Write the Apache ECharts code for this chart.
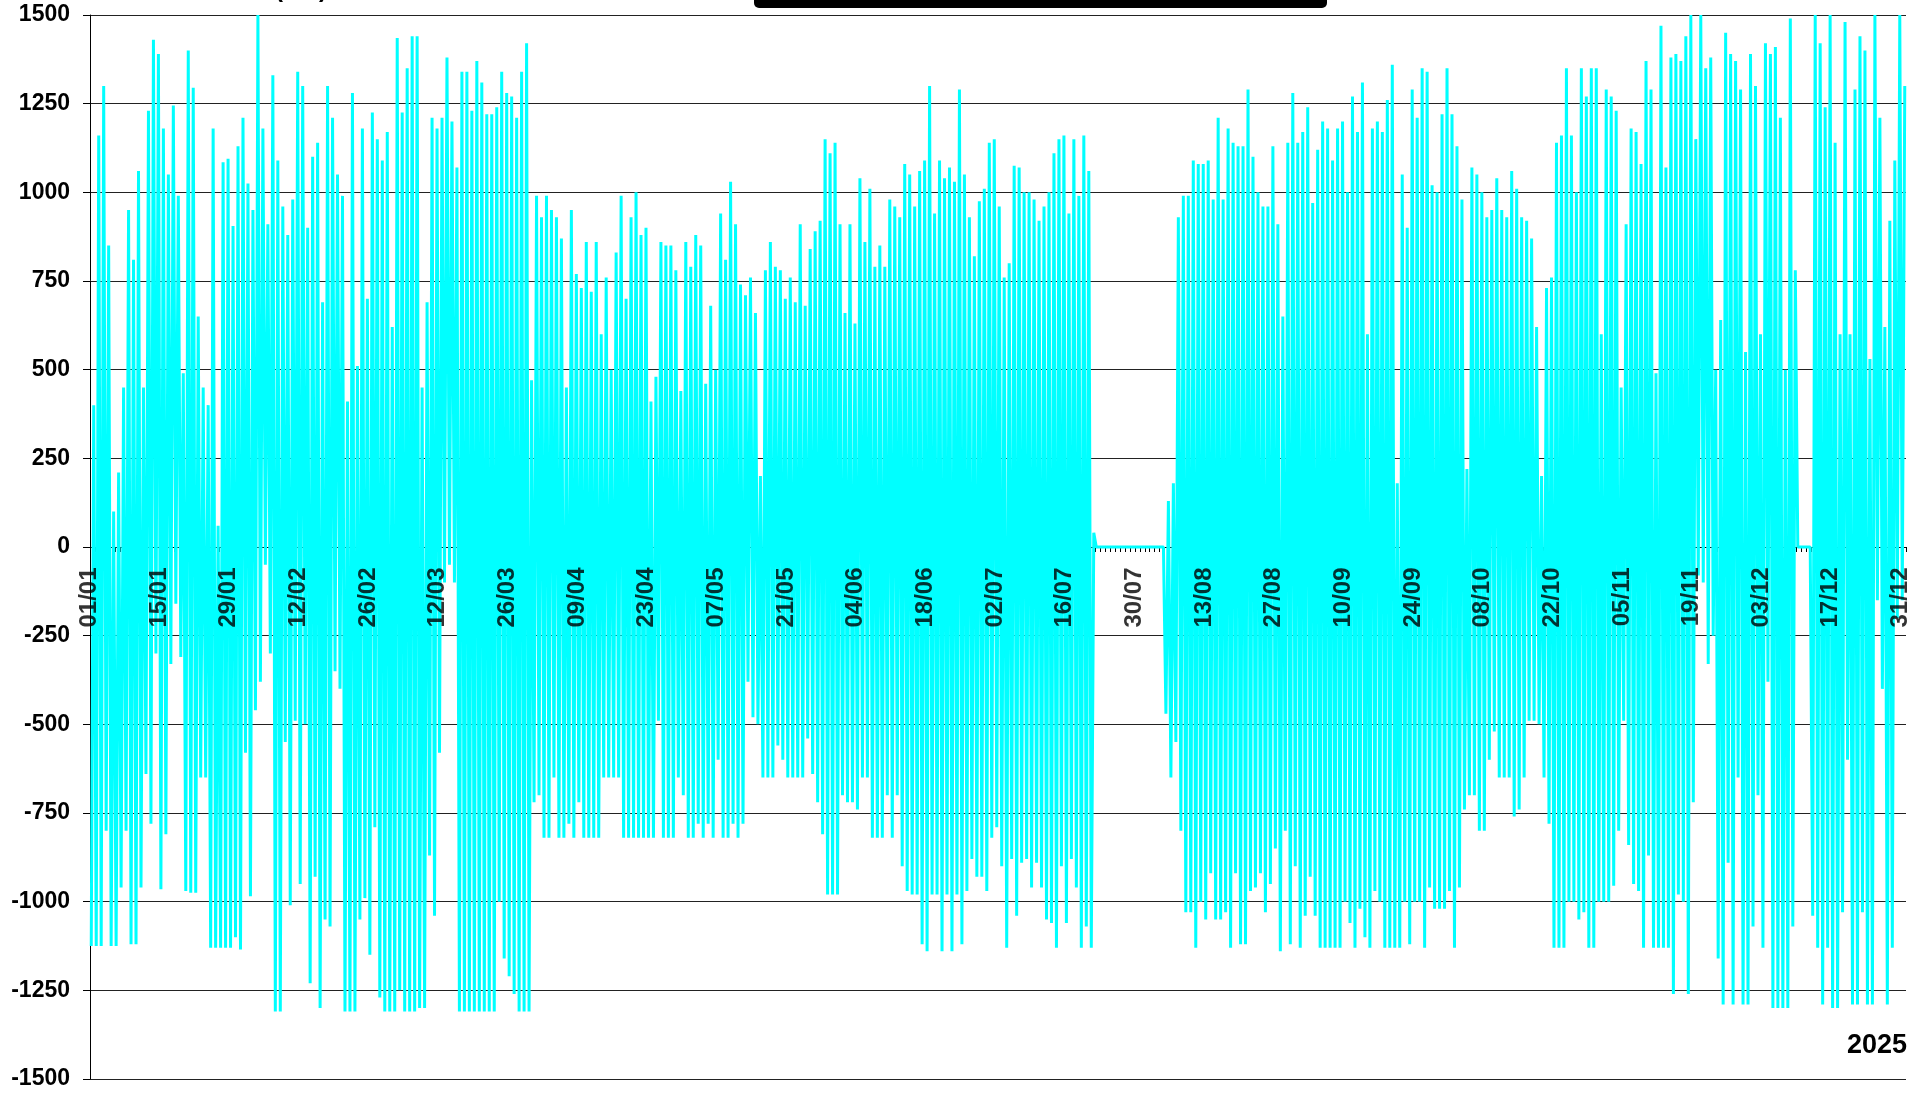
<!DOCTYPE html>
<html>
<head>
<meta charset="utf-8">
<script src="https://cdn.jsdelivr.net/npm/echarts@6/dist/echarts.min.js"></script>
<style>
html,body{margin:0;padding:0;background:#fff;}
#chart{width:1932px;height:1094px;}
</style>
</head>
<body>
<div id="chart"></div>
<script>
// x tick labels (every 14 days, 2025)
const tickLabels = ['01/01','15/01','29/01','12/02','26/02','12/03','26/03','09/04','23/04','07/05','21/05','04/06','18/06','02/07','16/07','30/07','13/08','27/08','10/09','24/09','08/10','22/10','05/11','19/11','03/12','17/12','31/12'];
const yearLabel = '2025';

// Daily maximum (kW), one value per day
const dayMax = [
 400,1160,1300,850,100,210,450,950,810,1060,
 450,1230,1430,1390,1180,1050,1245,990,490,1400,
 1295,650,450,400,1180,60,1085,1095,905,1130,
 1210,1025,950,1500,1180,910,1330,1090,960,880,
 980,1340,1300,900,1100,1140,690,1300,1210,1050,
 990,410,1280,510,1180,700,1225,1150,1090,1170,
 620,1435,1225,1350,1440,1440,450,690,1210,1180,
 1210,1380,1200,1070,1340,1340,1230,1370,1310,1220,
 1220,1240,1340,1280,1270,1210,1340,1420,470,990,
 930,990,950,930,870,450,950,770,730,860,
 720,860,600,760,500,830,990,700,930,1000,
 880,900,410,480,860,850,850,780,440,860,
 790,880,850,460,680,500,940,810,1030,910,
 740,710,760,660,200,780,860,790,780,700,
 760,690,910,680,840,890,920,1150,1110,1140,
 910,660,910,630,1040,860,1010,790,850,790,
 980,960,930,1080,1050,960,1060,1090,1300,940,
 1090,1040,1070,1030,1290,1050,930,820,975,1010,
 1140,1150,960,760,800,1075,1070,1000,1000,980,
 920,960,1000,1110,1150,1160,940,1150,990,1160,
 1060,40,0,0,0,0,0,0,0,0,
 0,0,0,0,0,0,130,180,930,990,
 990,1090,1080,1080,1090,980,1210,980,1180,1140,
 1130,1130,1290,1100,1000,960,960,1130,910,650,
 1140,1280,1140,1170,1240,970,1120,1200,1180,1090,
 1180,1200,1000,1270,1170,1310,600,1180,1200,1170,
 1260,1360,180,1050,900,1290,1210,1350,1340,1020,
 1000,1220,1350,1220,1130,980,220,1070,1050,1000,
 930,950,1040,950,930,1060,1010,930,920,870,
 620,200,730,760,1140,1160,1350,1160,1000,1350,
 1270,1350,1350,600,1290,1270,1230,450,910,1180,
 1170,1080,1370,1290,490,1470,1070,1380,1390,1370,
 1440,1500,1150,1500,1350,1380,500,640,1450,1390,
 1370,1290,550,1390,1300,600,1420,1390,1410,1210,
 500,1490,780,0,0,0,1500,1420,1240,1500,
 1140,600,1480,600,1290,1440,1400,530,1500,1210,
 620,920,1090,1500,1300
];

// Daily minimum (kW), one value per day
const dayMin = [
 -1125,-1125,-1125,-800,-1125,-1125,-960,-800,-1120,-1120,
 -960,-640,-780,-300,-965,-810,-330,-160,-310,-970,
 -975,-975,-650,-650,-1130,-1130,-1130,-1130,-1130,-1100,
 -1135,-580,-985,-460,-380,-50,-300,-1310,-1310,-550,
 -1010,-490,-950,-500,-1230,-930,-1300,-1050,-1070,-350,
 -400,-1310,-1310,-1310,-1050,-990,-1150,-790,-1270,-1310,
 -1310,-1310,-1250,-1310,-1310,-1310,-1300,-1300,-870,-1040,
 -580,-100,-50,-100,-1310,-1310,-1310,-1310,-1310,-1310,
 -1310,-1310,-1000,-1160,-1210,-1260,-1310,-1310,-1310,-720,
 -700,-820,-820,-650,-820,-820,-780,-820,-720,-820,
 -820,-820,-820,-650,-650,-650,-650,-820,-820,-820,
 -820,-820,-820,-820,-490,-820,-820,-820,-650,-700,
 -820,-820,-780,-820,-780,-820,-600,-820,-820,-780,
 -820,-780,-380,-480,-500,-650,-650,-650,-560,-600,
 -650,-650,-650,-650,-540,-640,-720,-810,-980,-980,
 -980,-700,-720,-720,-740,-650,-650,-820,-820,-820,
 -700,-820,-700,-900,-970,-980,-980,-1120,-1140,-980,
 -980,-1140,-980,-1140,-980,-1120,-970,-880,-930,-930,
 -970,-820,-790,-900,-1130,-880,-1040,-890,-880,-960,
 -890,-960,-1050,-1060,-1130,-900,-1060,-880,-960,-1130,
 -1070,-1130,0,0,0,0,0,0,0,0,
 0,0,0,0,0,0,-470,-650,-550,-800,
 -1030,-1030,-1130,-1000,-1050,-920,-1050,-1050,-1030,-1130,
 -920,-1120,-1120,-970,-960,-920,-1030,-950,-850,-1140,
 -800,-1120,-900,-1130,-1040,-930,-1040,-1130,-1130,-1130,
 -1130,-1130,-1000,-1060,-1130,-1020,-1100,-1130,-970,-1000,
 -1130,-1130,-1130,-1130,-1000,-1120,-1000,-1000,-1130,-960,
 -1020,-1020,-1020,-970,-1130,-960,-740,-700,-700,-800,
 -800,-600,-520,-650,-650,-650,-760,-740,-650,-490,
 -490,-500,-650,-780,-1130,-1130,-1130,-1000,-1000,-1050,
 -1030,-1130,-1130,-1000,-1000,-1000,-955,-800,-490,-840,
 -950,-970,-1130,-870,-1130,-1130,-1130,-1130,-1260,-980,
 -1000,-1260,-720,-80,-100,-330,-250,-1160,-1290,-890,
 -1290,-650,-1290,-1290,-1070,-700,-1130,-380,-1300,-1300,
 -1300,-1300,-1070,0,0,0,-1040,-1130,-1290,-1130,
 -1300,-1300,-1030,-600,-1290,-1290,-1030,-1290,-1290,-150,
 -400,-1290,-1130,-200,-150
];

const labelStep = 14;
const totalDays = 365;

// Build the line: each day contributes its trough then its peak
const seriesData = [];
for (let i = 0; i < dayMax.length; i++) {
  seriesData.push([i + 0.25, dayMin[i]]);
  seriesData.push([i + 0.75, dayMax[i]]);
}
// Date labels sit on the zero line, one every 14 days
const labelData = tickLabels.map(function (t, k) { return {value: [k * labelStep, 0], name: t}; });

const chart = echarts.init(document.getElementById('chart'), null, {renderer: 'canvas'});
const FONT = 'Arial, "Liberation Sans", sans-serif';
chart.setOption({
  animation: false,
  backgroundColor: '#ffffff',
  grid: {left: 90, right: 26, top: 15, bottom: 15, containLabel: false, outerBoundsMode: 'none'},
  xAxis: {
    type: 'value', min: 0, max: totalDays, interval: 1,
    axisLine: {show: true, onZero: true, lineStyle: {color: '#000', width: 1}},
    axisTick: {show: true, length: 5, lineStyle: {color: '#000', width: 1}},
    axisLabel: {show: false},
    splitLine: {show: false}
  },
  yAxis: {
    type: 'value', min: -1500, max: 1500, interval: 250,
    axisLine: {show: true, onZero: false, lineStyle: {color: '#000', width: 1}},
    axisTick: {show: true, length: 7, lineStyle: {color: '#000'}},
    axisLabel: {fontSize: 23, fontWeight: 'bold', color: '#000', margin: 20, fontFamily: FONT,
      formatter: function (v) { return String(v); }},
    splitLine: {show: true, lineStyle: {color: '#222', width: 1}}
  },
  series: [{
    type: 'line',
    data: seriesData,
    symbol: 'none',
    showSymbol: false,
    silent: true,
    z: 3,
    lineStyle: {color: '#00FFFF', width: 3, join: 'bevel', cap: 'butt'}
  }, {
    type: 'scatter',
    data: labelData,
    symbol: 'circle',
    symbolSize: 1,
    silent: true,
    clip: false,
    z: 5,
    itemStyle: {color: 'rgba(0,0,0,0)'},
    label: {
      show: true,
      position: [0, 21],
      rotate: 90,
      align: 'right',
      verticalAlign: 'middle',
      fontSize: 24,
      fontWeight: 'bold',
      color: '#000',
      fontFamily: FONT,
      formatter: function (p) { return p.name; }
    }
  }],
  graphic: [
    {type: 'rect', left: 754, top: -10, shape: {width: 573, height: 18, r: 5}, style: {fill: '#000'}, z: 10},
    {type: 'text', left: 275, top: -22, style: {text: '(kW)', font: 'bold 24px ' + FONT, fill: '#000'}, z: 10},
    {type: 'text', right: 25, top: 1032, style: {text: yearLabel, font: 'bold 27px ' + FONT, fill: '#000'}, z: 10}
  ]
});
</script>
</body>
</html>
